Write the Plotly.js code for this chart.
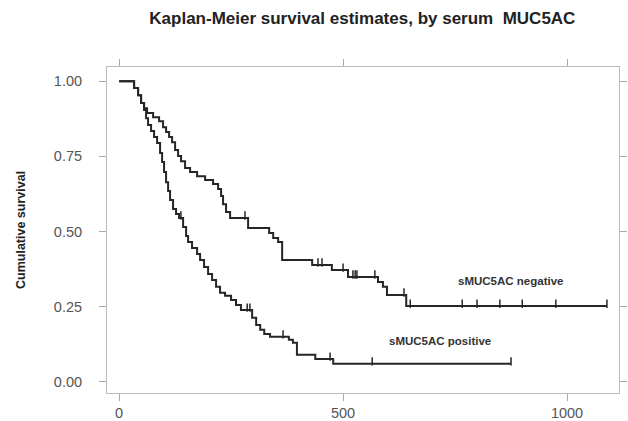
<!DOCTYPE html>
<html>
<head>
<meta charset="utf-8">
<script src="https://cdn.plot.ly/plotly-3.0.1.min.js"></script>
<style>html,body{margin:0;padding:0;background:#fff}#chart{width:628px;height:421px}</style>
</head>
<body>
<div id="chart"></div>
<script>
// sMUC5AC negative: event times and survival after each step
const negTimes = [0, 33.5, 42.4, 49.1, 55.8, 62.5, 75.9, 89.3, 98.2, 104.9, 111.6, 118.3, 125.0, 131.7, 138.4, 147.3, 158.5, 174.1, 192.0, 209.8, 221.0, 227.7, 232.1, 238.8, 247.8, 288, 335, 344, 355, 364, 431, 475, 511, 578, 589, 598, 641];
const negSurv  = [1.0, 0.977, 0.953, 0.927, 0.910, 0.894, 0.880, 0.867, 0.847, 0.831, 0.814, 0.797, 0.771, 0.751, 0.734, 0.711, 0.698, 0.684, 0.671, 0.658, 0.641, 0.618, 0.591, 0.565, 0.545, 0.512, 0.495, 0.478, 0.465, 0.405, 0.389, 0.372, 0.349, 0.332, 0.316, 0.289, 0.252];
const negEnd = 1089;
const negCensor = [281, 444, 453, 500, 522, 527, 531, 571, 636, 650, 766, 799, 850, 900, 975, 1089];

// sMUC5AC positive
const posTimes = [0, 33.5, 42.4, 49.1, 55.8, 60.3, 64.7, 71.4, 78.1, 84.8, 91.5, 96.0, 100.4, 104.9, 109.4, 113.8, 120.5, 127.2, 133.9, 142.9, 149.6, 154.0, 162.9, 174.1, 180.8, 189.7, 198.7, 207.6, 216.5, 225.4, 236.6, 250, 261, 272, 297, 306, 315, 324, 337, 379, 388, 397, 438, 478];
const posSurv  = [1.0, 0.977, 0.953, 0.927, 0.904, 0.877, 0.854, 0.834, 0.814, 0.794, 0.761, 0.731, 0.698, 0.664, 0.635, 0.605, 0.575, 0.558, 0.545, 0.515, 0.485, 0.465, 0.445, 0.425, 0.405, 0.382, 0.359, 0.339, 0.316, 0.296, 0.286, 0.272, 0.256, 0.239, 0.213, 0.189, 0.173, 0.159, 0.150, 0.140, 0.130, 0.090, 0.076, 0.060];
const posEnd = 875;
const posCensor = [138, 286, 292, 366, 471, 565, 875];

const xTicks = [0, 500, 1000];
const yTicks = [0, 0.25, 0.5, 0.75, 1.0];
const yTickText = ['0.00', '0.25', '0.50', '0.75', '1.00'];

const titleText = 'Kaplan-Meier survival estimates, by serum  MUC5AC';
const yTitle = 'Cumulative survival';
const negLabel = 'sMUC5AC negative';
const posLabel = 'sMUC5AC positive';

function levelAt(times, surv, t) {
  let s = surv[0];
  for (let i = 0; i < times.length; i++) { if (times[i] <= t) s = surv[i]; }
  return s;
}

const lineColor = '#262626';
function stepTrace(times, surv, end) {
  return {
    x: times.concat([end]), y: surv.concat([surv[surv.length - 1]]),
    type: 'scatter', mode: 'lines', line: {shape: 'hv', color: lineColor, width: 2},
    hoverinfo: 'skip', showlegend: false
  };
}
function censorTrace(times, surv, cens) {
  return {
    x: cens, y: cens.map(t => levelAt(times, surv, t) + 0.008),
    type: 'scatter', mode: 'markers',
    marker: {symbol: 'line-ns', size: 6, line: {color: lineColor, width: 1.5}},
    hoverinfo: 'skip', showlegend: false
  };
}

const data = [
  stepTrace(negTimes, negSurv, negEnd),
  stepTrace(posTimes, posSurv, posEnd),
  censorTrace(negTimes, negSurv, negCensor),
  censorTrace(posTimes, posSurv, posCensor)
];

const fontFam = 'Liberation Sans, Arial, sans-serif';
const layout = {
  width: 628, height: 421,
  margin: {l: 107, r: 9, t: 67, b: 28},
  paper_bgcolor: '#fff', plot_bgcolor: '#fff',
  title: {text: '<b>' + titleText + '</b>', x: 0.577, xanchor: 'center', y: 0.958, yanchor: 'middle',
          font: {family: fontFam, size: 17, color: '#222'}},
  xaxis: {range: [-27, 1116], tickvals: xTicks, ticks: 'outside', ticklen: 7, tickwidth: 1, tickcolor: '#aaa',
          showline: true, linecolor: '#bbb', linewidth: 1, mirror: 'ticks', showgrid: false, zeroline: false,
          tickfont: {family: fontFam, size: 14.5, color: '#555'}},
  yaxis: {range: [-0.037, 1.047], tickvals: yTicks, ticktext: yTickText, ticks: 'outside', ticklen: 7, tickwidth: 1,
          tickcolor: '#aaa', showline: true, linecolor: '#bbb', linewidth: 1, mirror: 'ticks', showgrid: false,
          zeroline: false, ticklabelstandoff: 14, tickfont: {family: fontFam, size: 14.5, color: '#555'}},
  annotations: [
    {text: '<b>' + yTitle + '</b>', xref: 'paper', yref: 'paper', x: -0.168, y: 0.5, textangle: -90,
     showarrow: false, xanchor: 'center', yanchor: 'middle', font: {family: fontFam, size: 12.5, color: '#222'}},
    {text: '<b>' + negLabel + '</b>', xref: 'x', yref: 'y', x: 873, y: 0.336, showarrow: false,
     font: {family: fontFam, size: 11.5, color: '#333'}},
    {text: '<b>' + posLabel + '</b>', xref: 'x', yref: 'y', x: 717, y: 0.136, showarrow: false,
     font: {family: fontFam, size: 11.5, color: '#333'}}
  ]
};

Plotly.newPlot('chart', data, layout, {staticPlot: true, displayModeBar: false});
</script>
</body>
</html>
